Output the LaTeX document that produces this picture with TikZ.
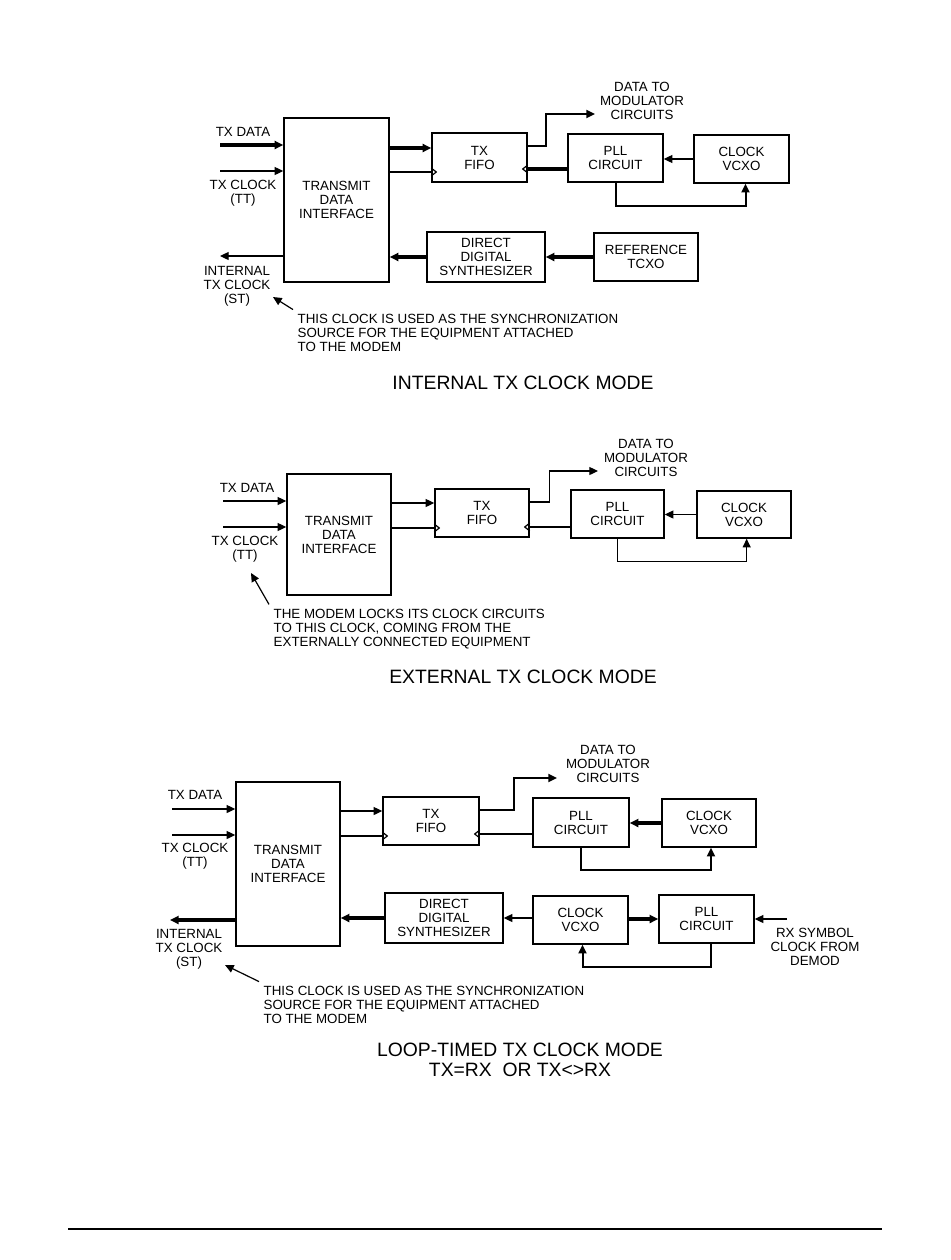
\documentclass[tikz,border=0pt]{standalone}
\usepackage{fontspec}
\setmainfont{Liberation Sans}
\usetikzlibrary{arrows.meta}
\newcommand{\smalltxt}{\fontsize{10}{10.5}\selectfont}
\newcommand{\titletxt}{\fontsize{14.5}{15}\selectfont}
% clock input triangle on a box edge: #1 point, #2 depth (signed)
\newcommand{\clk}[2]{\draw[wire] (#1) ++(0,-4) -- ++(#2,4) -- ++({-(#2)},4);}

\begin{document}
\begin{tikzpicture}[x=0.75pt,y=-0.75pt,>={Triangle[length=6.5pt,width=6pt]},
    blk/.style={draw,line width=1.1pt,align=center,inner sep=0pt,font=\smalltxt},
    lbl/.style={align=center,font=\smalltxt},
    note/.style={align=left,font=\smalltxt},
    title/.style={align=center,font=\titletxt},
    wire/.style={line width=0.9pt},
    mid/.style={line width=1.5pt},
    bus/.style={line width=2.6pt}]
  \useasboundingbox (0,0) rectangle (950,1260);

  %% internal tx clock mode
  \node[blk,minimum width=78.75pt,minimum height=123pt] (tdiA) at (336.5,200) {TRANSMIT\\DATA\\INTERFACE};
  \node[blk,minimum width=71.25pt,minimum height=36.75pt] (fifoA) at (479.5,157.5) {TX\\FIFO};
  \node[blk,minimum width=71.25pt,minimum height=36pt] (pllA) at (615.5,158) {PLL\\CIRCUIT};
  \node[blk,minimum width=71.25pt,minimum height=36pt] (vcxoA) at (741.5,159) {CLOCK\\VCXO};
  \node[blk,minimum width=88.5pt,minimum height=37.5pt] (ddsA) at (486,257) {DIRECT\\DIGITAL\\SYNTHESIZER};
  \node[blk,minimum width=78pt,minimum height=36pt] (tcxoA) at (646,257) {REFERENCE\\TCXO};

  \node[lbl] (txdLA) at (243,132) {TX DATA};
  \node[lbl] (txcLA) at (243,193) {TX CLOCK\\(TT)};
  \node[lbl] (stLA) at (237,286) {INTERNAL\\TX CLOCK\\(ST)};
  \node[lbl] (modLA) at (642,101) {DATA TO\\MODULATOR\\CIRCUITS};
  \node[note,anchor=west] (noteA) at (293,333) {THIS CLOCK IS USED AS THE SYNCHRONIZATION\\SOURCE FOR THE EQUIPMENT ATTACHED\\TO THE MODEM};
  \node[title] (ttlA) at (523,383) {INTERNAL TX CLOCK MODE};

  \coordinate (txdA) at (220,145);
  \coordinate (txcA) at (220,171);
  \coordinate (stA) at (220,256);
  \coordinate (tipA) at (273,297);
  \coordinate (modA) at (595,114);
  \draw[bus,->] (txdA) -- (txdA -| tdiA.west);
  \draw[wire,->] (txcA) -- (txcA -| tdiA.west);
  \draw[wire,->] (stA -| tdiA.west) -- (stA);
  \draw[wire,->] (noteA.north west) -- (tipA);
  \draw[bus,->] (tdiA.east |- 0,148) -- (fifoA.west |- 0,148);
  \draw[wire] (tdiA.east |- 0,172) -- (fifoA.west |- 0,172);
  \clk{fifoA.west |- 0,172}{5}
  \draw[mid,->] (fifoA.east |- 0,146) -- ++(18,0) |- (modA);
  \draw[bus] (pllA.west |- 0,169) -- (fifoA.east |- 0,169);
  \clk{fifoA.east |- 0,169}{-5}
  \draw[wire,->] (vcxoA.west) -- (vcxoA.west -| pllA.east);
  \draw[mid,->] (pllA.south) -- ++(0,23) -| ([xshift=3pt]vcxoA.south);
  \draw[bus,->] (ddsA.west) -- (ddsA.west -| tdiA.east);
  \draw[bus,->] (tcxoA.west) -- (tcxoA.west -| ddsA.east);

  %% external tx clock mode
  \node[blk,minimum width=78pt,minimum height=90.75pt] (tdiB) at (339,534.5) {TRANSMIT\\DATA\\INTERFACE};
  \node[blk,minimum width=70.5pt,minimum height=36pt] (fifoB) at (482,513) {TX\\FIFO};
  \node[blk,minimum width=69.75pt,minimum height=36pt] (pllB) at (617.5,514) {PLL\\CIRCUIT};
  \node[blk,minimum width=70.5pt,minimum height=35.25pt] (vcxoB) at (744,514.5) {CLOCK\\VCXO};

  \node[lbl] (txdLB) at (247,488) {TX DATA};
  \node[lbl] (txcLB) at (245,549) {TX CLOCK\\(TT)};
  \node[lbl] (modLB) at (646,458) {DATA TO\\MODULATOR\\CIRCUITS};
  \node[note,anchor=west] (noteB) at (269,629) {THE MODEM LOCKS ITS CLOCK CIRCUITS\\TO THIS CLOCK, COMING FROM THE\\EXTERNALLY CONNECTED EQUIPMENT};
  \node[title] (ttlB) at (523,677) {EXTERNAL TX CLOCK MODE};

  \coordinate (txdB) at (223,501);
  \coordinate (txcB) at (223,527);
  \coordinate (tipB) at (251,573);
  \coordinate (modB) at (598,471);
  \draw[wire,->] (txdB) -- (txdB -| tdiB.west);
  \draw[wire,->] (txcB) -- (txcB -| tdiB.west);
  \draw[wire,->] (noteB.north west) -- (tipB);
  \draw[wire,->] (tdiB.east |- 0,503) -- (fifoB.west |- 0,503);
  \draw[wire] (tdiB.east |- 0,528) -- (fifoB.west |- 0,528);
  \clk{fifoB.west |- 0,528}{5}
  \draw[wire,->] (fifoB.east |- 0,502) -- ++(20,0) |- (modB);
  \draw[wire] (pllB.west |- 0,527) -- (fifoB.east |- 0,527);
  \clk{fifoB.east |- 0,527}{-5}
  \draw[wire,->] (vcxoB.west) -- (vcxoB.west -| pllB.east);
  \draw[wire,->] (pllB.south) -- ++(0,23) -| ([xshift=2pt]vcxoB.south);

  %% loop-timed tx clock mode
  \node[blk,minimum width=78pt,minimum height=123pt] (tdiC) at (288,864) {TRANSMIT\\DATA\\INTERFACE};
  \node[blk,minimum width=72pt,minimum height=36pt] (fifoC) at (431,821) {TX\\FIFO};
  \node[blk,minimum width=72pt,minimum height=36.75pt] (pllC1) at (581,822.5) {PLL\\CIRCUIT};
  \node[blk,minimum width=70.5pt,minimum height=36pt] (vcxoC1) at (709,823) {CLOCK\\VCXO};
  \node[blk,minimum width=88.5pt,minimum height=37.5pt] (ddsC) at (444,918) {DIRECT\\DIGITAL\\SYNTHESIZER};
  \node[blk,minimum width=71.25pt,minimum height=36pt] (vcxoC2) at (580.5,920) {CLOCK\\VCXO};
  \node[blk,minimum width=71.25pt,minimum height=36pt] (pllC2) at (706.5,919) {PLL\\CIRCUIT};

  \node[lbl] (txdLC) at (195,795) {TX DATA};
  \node[lbl] (txcLC) at (195,856) {TX CLOCK\\(TT)};
  \node[lbl] (stLC) at (189,949) {INTERNAL\\TX CLOCK\\(ST)};
  \node[lbl] (rxLC) at (815,947) {RX SYMBOL\\CLOCK FROM\\DEMOD};
  \node[lbl] (modLC) at (608,764) {DATA TO\\MODULATOR\\CIRCUITS};
  \node[note,anchor=west] (noteC) at (259,1005) {THIS CLOCK IS USED AS THE SYNCHRONIZATION\\SOURCE FOR THE EQUIPMENT ATTACHED\\TO THE MODEM};
  \node[title] (ttlC) at (520,1060) {LOOP-TIMED TX CLOCK MODE\\TX=RX\ \ OR TX<>RX};

  \coordinate (txdC) at (172,809);
  \coordinate (txcC) at (172,835);
  \coordinate (stC) at (170,920);
  \coordinate (tipC) at (225,965);
  \coordinate (modC) at (557,778);
  \coordinate (rxC) at (787,919);
  \draw[wire,->] (txdC) -- (txdC -| tdiC.west);
  \draw[wire,->] (txcC) -- (txcC -| tdiC.west);
  \draw[bus,->] (stC -| tdiC.west) -- (stC);
  \draw[wire,->] (noteC.north west) -- (tipC);
  \draw[wire,->] (tdiC.east |- 0,811) -- (fifoC.west |- 0,811);
  \draw[wire] (tdiC.east |- 0,836) -- (fifoC.west |- 0,836);
  \clk{fifoC.west |- 0,836}{5}
  \draw[mid,->] (fifoC.east |- 0,810) -- ++(34,0) |- (modC);
  \draw[wire] (pllC1.west |- 0,834) -- (fifoC.east |- 0,834);
  \clk{fifoC.east |- 0,834}{-5}
  \draw[bus,->] (vcxoC1.west) -- (vcxoC1.west -| pllC1.east);
  \draw[mid,->] (pllC1.south) -- ++(0,22) -| ([xshift=1.5pt]vcxoC1.south);
  \draw[bus,->] (ddsC.west) -- (ddsC.west -| tdiC.east);
  \draw[wire,->] (ddsC.east -| vcxoC2.west) -- (ddsC.east);
  \draw[bus,->] (pllC2.west -| vcxoC2.east) -- (pllC2.west);
  \draw[wire,->] (rxC) -- (rxC -| pllC2.east);
  \draw[mid,->] ([xshift=3pt]pllC2.south) -- ++(0,23) -| ([xshift=1.5pt]vcxoC2.south);

  %% page rule
  \coordinate (ftL) at (68,1229);
  \coordinate (ftR) at (882,1229);
  \draw[line width=1.4pt] (ftL) -- (ftR);
\end{tikzpicture}
\end{document}
